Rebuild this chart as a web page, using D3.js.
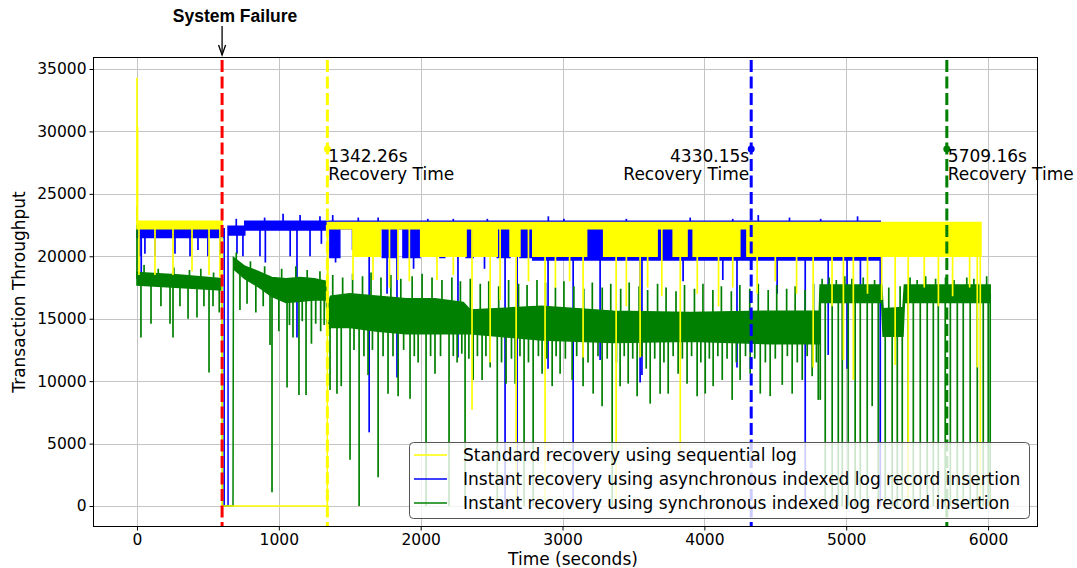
<!DOCTYPE html>
<html>
<head>
<meta charset="utf-8">
<script src="https://cdn.jsdelivr.net/npm/d3@7"></script>
<style>
  body { margin: 0; background: #fff; }
  text { font-family: "DejaVu Sans", sans-serif; }
</style>
</head>
<body>
<div id="chart"></div>
<script>
// ---- data ----
const xTicks = [0, 1000, 2000, 3000, 4000, 5000, 6000];
const yTicks = [0, 5000, 10000, 15000, 20000, 25000, 30000, 35000];

const seriesNames = [
  'Standard recovery using sequential log',
  'Instant recovery using asynchronous indexed log record insertion',
  'Instant recovery using synchronous indexed log record insertion'
];

const failureTime = 600;
const recoveryTimes = [1342.26, 4330.15, 5709.16];
const recoveryLabels = ['1342.26s\nRecovery Time', '4330.15s\nRecovery Time', '5709.16s\nRecovery Time'];
const markerValue = 28600;

// yellow: band of the dense trace (step segments), then single dips/peaks
const yellowT  = [0, 600, 1342, 1525, 1715, 2000, 2320, 2370, 2540, 2630, 2700, 2790, 3170, 3290, 3667, 3780, 3878, 3921, 4250, 4300, 5950];
const yellowHi = [22800, 0, 22700, 22700, 22700, 22700, 22700, 22700, 22700, 22700, 22700, 22700, 22700, 22700, 22700, 22700, 22700, 22700, 22700, 22700, 22700];
const yellowLo = [22200, 0, 22200, 20000, 22200, 20000, 22200, 20000, 22200, 20000, 22200, 20000, 22200, 20000, 22200, 20000, 22200, 20000, 22200, 20000, 20000];
const yellowSpikes = [
  [0, 34300], [4, 30400], [14, 18500], [127, 18500], [254, 18500], [388, 18800], [508, 18500], [585, 18300],
  [1345, 14700], [1523, 18100], [1664, 18100], [1780, 17500], [1840, 18100], [1920, 18000], [2115, 18100], [2230, 18500],
  [2362, 7700], [2490, 11500], [2560, 16500], [2673, 0], [2760, 18000], [2877, 0], [2950, 17500], [3050, 18000],
  [3145, 11900], [3378, 0], [3450, 16000], [3547, 11900], [3600, 17500], [3700, 16800], [3830, 4300], [3950, 17000],
  [4100, 16000], [4200, 17500], [4372, 17000], [4500, 18000], [4650, 17000], [4767, 11100], [4900, 16000], [4980, 11700],
  [5050, 10100], [5150, 17000], [5250, 16500], [5345, 11300], [5437, 0], [5550, 17500], [5650, 16000], [5750, 16800],
  [5870, 17500], [5924, 11100], [5945, 0]
];

// blue
const blueT  = [0, 615, 642, 760, 1342, 1360, 1430, 1730, 1835, 1875, 1995, 2136, 2170, 2320, 2370, 2540, 2630, 2700, 2790, 5240];
const blueHi = [22200, 0, 22400, 22800, 22800, 22800, 22800, 22800, 22800, 22800, 22800, 22800, 22800, 22800, 22800, 22800, 22800, 22800, 22800, 22800];
const blueLo = [21500, 0, 21700, 22100, 22200, 19900, 22200, 19900, 22200, 19900, 22200, 19900, 22200, 19900, 22200, 19900, 22200, 19900, 19700, 19700];
const blueSpikes = [
  [20, 20000], [30, 18700], [56, 20200], [127, 20000], [268, 20200], [374, 20000], [430, 20500], [500, 20000], [585, 20100],
  [700, 23000], [705, 20200], [747, 20000], [867, 20000], [900, 23100], [905, 19500], [1030, 23400], [1080, 20000],
  [1128, 13500], [1150, 23300], [1220, 20000], [1290, 23200], [1300, 21000],
  [1380, 23300], [1400, 19500], [1520, 20500], [1560, 23100], [1637, 5900], [1700, 23100], [1763, 17000], [1833, 10300],
  [1950, 19000], [2050, 23000], [2230, 23000], [2263, 11900], [2450, 19000], [2470, 23000], [2595, 0], [2680, 0],
  [2898, 11000], [2900, 23200], [3010, 23000], [3075, 0], [3265, 11700], [3450, 23000], [3547, 9900], [3560, 10500],
  [3850, 18000], [3900, 23100], [4130, 18100], [4200, 23000], [4230, 11100], [4380, 23300], [4513, 17000], [4600, 23100],
  [4711, 0], [4820, 23000], [4873, 12100], [5006, 11000], [5080, 23200], [5100, 17500], [5240, 0]
];

// green (smooth band)
const greenT  = [0, 300, 600, 603, 677, 680, 760, 850, 950, 1050, 1150, 1250, 1335, 1342, 1365, 1500, 1700, 1900, 2100, 2300, 2350, 2850, 3360, 3900, 4464, 4810, 4816, 5250, 5260, 5400, 5410, 6015];
const greenHi = [18700, 18500, 18200, 0, 0, 19900, 19200, 18800, 18300, 18200, 18300, 18200, 18000, 16000, 16800, 17000, 16800, 16600, 16600, 16300, 15700, 16000, 15600, 15500, 15600, 15600, 17700, 17700, 15800, 15900, 17700, 17700];
const greenLo = [17700, 17500, 17300, 0, 0, 19000, 18200, 17600, 16800, 16300, 16400, 16500, 16500, 14200, 14300, 14300, 14000, 13800, 13800, 13800, 13800, 13300, 13100, 13200, 13000, 13000, 16300, 16300, 13600, 13600, 16300, 16300];
const greenSpikes = [
  [0, 24000], [28, 13500], [50, 19300], [99, 14600], [150, 19000], [169, 16000], [233, 14600], [254, 13500], [260, 19100],
  [303, 16000], [360, 15000], [370, 18900], [423, 15100], [450, 19000], [472, 16000], [508, 10700], [536, 16000], [540, 18700], [580, 15500],
  [700, 20300], [726, 15700], [776, 16200], [800, 19600], [838, 15500], [890, 16000], [900, 19200], [938, 12900], [952, 1100],
  [1000, 14000], [1020, 19000], [1058, 9500], [1075, 14500], [1100, 13500], [1120, 19200], [1142, 8900], [1165, 14800],
  [1192, 8900], [1200, 18900], [1230, 13000], [1260, 14600], [1290, 18800], [1295, 14000], [1320, 14500],
  [1361, 9300], [1380, 18500], [1410, 9000], [1440, 9600], [1450, 18300], [1502, 3700], [1520, 18600], [1530, 12500],
  [1566, 0], [1590, 18400], [1600, 12000], [1629, 10500], [1650, 18700], [1660, 12500], [1700, 2300], [1720, 18300],
  [1735, 12000], [1770, 9000], [1790, 18500], [1805, 12000], [1841, 8800], [1860, 18200], [1880, 12500], [1925, 8600],
  [1940, 18400], [1955, 12000], [1982, 11500], [2010, 18600], [2038, 0], [2070, 12000], [2080, 18300], [2101, 10600],
  [2140, 12000], [2150, 18100], [2200, 0], [2220, 18300], [2230, 12000], [2257, 11500], [2280, 18000], [2290, 12200],
  [2313, 0], [2340, 11800], [2350, 18200], [2370, 10100], [2400, 12000], [2420, 17800], [2433, 10100], [2460, 12000],
  [2480, 18000], [2490, 11100], [2540, 0], [2550, 17600], [2570, 11500], [2602, 9800], [2620, 18100], [2640, 11800],
  [2666, 9800], [2690, 17800], [2700, 12000], [2729, 0], [2750, 17700], [2760, 11500], [2793, 0], [2820, 18100],
  [2830, 12000], [2856, 10600], [2880, 17900], [2890, 11800], [2927, 9600], [2950, 17500], [2955, 12000], [2983, 10600],
  [3010, 18000], [3020, 11800], [3068, 10100], [3080, 17600], [3100, 12000], [3145, 9600], [3150, 17400], [3180, 11500],
  [3210, 17900], [3216, 9000], [3250, 12000], [3279, 8000], [3280, 17500], [3315, 11800], [3340, 17800], [3350, 0],
  [3380, 11500], [3406, 9600], [3410, 17400], [3435, 12000], [3463, 9800], [3470, 17900], [3495, 11800], [3526, 8800],
  [3540, 17600], [3560, 12000], [3590, 11000], [3600, 17300], [3618, 8200], [3650, 11800], [3670, 17800], [3688, 9000],
  [3715, 11500], [3730, 17500], [3745, 9000], [3780, 12000], [3800, 17200], [3815, 10600], [3845, 11800], [3860, 17700],
  [3878, 9800], [3910, 12000], [3930, 17400], [3949, 8800], [3975, 11500], [3990, 17800], [4006, 9000], [4035, 11800],
  [4060, 17300], [4062, 9600], [4095, 12000], [4120, 17600], [4126, 10100], [4160, 11800], [4190, 17200], [4196, 8500],
  [4225, 11500], [4250, 17700], [4252, 10100], [4290, 12000], [4320, 17400], [4323, 10600], [4355, 11800], [4380, 17800],
  [4394, 9000], [4430, 11500], [4450, 17300], [4464, 8800], [4500, 11800], [4510, 17700], [4549, 9700], [4580, 17400],
  [4585, 12000], [4619, 9000], [4640, 17600], [4655, 11500], [4690, 10100], [4710, 17300], [4725, 12000], [4760, 10400],
  [4770, 17800], [4790, 11500], [4803, 8500],
  [4817, 8500], [4830, 18200], [4852, 0], [4880, 18300], [4901, 0], [4930, 18100], [4944, 0], [4972, 0], [4990, 18400],
  [5014, 0], [5040, 18200], [5063, 0], [5099, 0], [5120, 18300], [5148, 0], [5183, 8000], [5200, 18100], [5226, 0],
  [5275, 0], [5300, 17500], [5324, 0], [5360, 0], [5380, 17600], [5395, 0], [5437, 0], [5450, 18300], [5473, 0],
  [5500, 18100], [5522, 0], [5560, 18400], [5571, 0], [5614, 0], [5630, 18200], [5649, 0], [5698, 0], [5700, 18300],
  [5734, 0], [5760, 18100], [5783, 0], [5825, 0], [5850, 18300], [5874, 0], [5900, 18200], [5924, 0], [5966, 0],
  [5990, 18400], [6001, 0], [6015, 0]
];

const colors = ['#ffff00', '#0000ff', '#008000'];

// ---- chart ----
const W = 1077, H = 568;
const pLeft = 93, pRight = 1038, pTop = 57, pBottom = 527;

const svg = d3.select('#chart').append('svg')
  .attr('width', W)
  .attr('height', H);

const x = d3.scaleLinear().domain([-310, 6352]).range([pLeft, pRight]);
const y = d3.scaleLinear().domain([-1680, 35960]).range([pBottom, pTop]);

svg.append('clipPath').attr('id', 'plot')
  .append('rect')
  .attr('x', pLeft).attr('y', pTop)
  .attr('width', pRight - pLeft).attr('height', pBottom - pTop);

// grid
const grid = svg.append('g').attr('stroke', '#c4c4c4').attr('stroke-width', 1);
grid.selectAll('.gx').data(xTicks).join('line')
  .attr('x1', d => Math.round(x(d)) + 0.5).attr('x2', d => Math.round(x(d)) + 0.5)
  .attr('y1', pTop).attr('y2', pBottom);
grid.selectAll('.gy').data(yTicks).join('line')
  .attr('y1', d => Math.round(y(d)) + 0.5).attr('y2', d => Math.round(y(d)) + 0.5)
  .attr('x1', pLeft).attr('x2', pRight);

const plot = svg.append('g').attr('clip-path', 'url(#plot)');

function bandAt(rows, t, step) {
  const i = Math.max(0, d3.bisector(d => d.t).right(rows, t) - 1);
  const a = rows[i], b = rows[Math.min(i + 1, rows.length - 1)];
  if (step || a === b) return (a.hi + a.lo) / 2;
  const k = (t - a.t) / (b.t - a.t);
  return (a.hi + a.lo) / 2 + k * ((b.hi + b.lo) / 2 - (a.hi + a.lo) / 2);
}

function drawSeries(T, Hi, Lo, spikes, color, step) {
  const rows = T.map((t, i) => ({ t: t, hi: Hi[i], lo: Lo[i] }));
  const g = plot.append('g');
  const area = d3.area()
    .x(d => x(d.t))
    .y0(d => y(d.lo))
    .y1(d => y(d.hi))
    .curve(step ? d3.curveStepAfter : d3.curveLinear);
  g.append('path')
    .datum(rows)
    .attr('d', area)
    .attr('fill', color)
    .attr('stroke', color)
    .attr('stroke-width', 1.5)
    .attr('stroke-linejoin', 'miter');
  g.selectAll('line.spike')
    .data(spikes)
    .join('line')
    .attr('class', 'spike')
    .attr('x1', d => x(d[0])).attr('x2', d => x(d[0]))
    .attr('y1', d => y(bandAt(rows, d[0], step)))
    .attr('y2', d => y(d[1]))
    .attr('stroke', color)
    .attr('stroke-width', 1.7);
}

drawSeries(blueT, blueHi, blueLo, blueSpikes, colors[1], true);
drawSeries(greenT, greenHi, greenLo, greenSpikes, colors[2], false);
drawSeries(yellowT, yellowHi, yellowLo, yellowSpikes, colors[0], true);

// failure + recovery lines
const vlines = [failureTime].concat(recoveryTimes);
const vcolors = ['#ff0000'].concat(colors);
plot.selectAll('line.v')
  .data(vlines)
  .join('line')
  .attr('class', 'v')
  .attr('x1', d => x(d)).attr('x2', d => x(d))
  .attr('y1', pTop + 3).attr('y2', pBottom)
  .attr('stroke', (d, i) => vcolors[i])
  .attr('stroke-width', 3)
  .attr('stroke-dasharray', '12,4.5');

svg.selectAll('circle.mark')
  .data(recoveryTimes)
  .join('circle')
  .attr('class', 'mark')
  .attr('cx', d => x(d)).attr('cy', y(markerValue))
  .attr('r', 3.5)
  .attr('fill', (d, i) => colors[i]);

const ann = svg.selectAll('text.ann')
  .data(recoveryTimes)
  .join('text')
  .attr('class', 'ann')
  .attr('font-size', 17)
  .attr('fill', '#000')
  .attr('text-anchor', (d, i) => i === 1 ? 'end' : 'start')
  .attr('y', y(markerValue));
ann.each(function(d, i) {
  const lines = recoveryLabels[i].split('\n');
  d3.select(this).selectAll('tspan')
    .data(lines)
    .join('tspan')
    .attr('x', x(d) + (i === 1 ? -2 : 1))
    .attr('dy', (l, j) => j === 0 ? 13 : 18.5)
    .text(l => l);
});

// system failure label
svg.append('text')
  .attr('x', 235).attr('y', 22)
  .attr('text-anchor', 'middle')
  .attr('font-size', 17.5)
  .attr('font-weight', 'bold')
  .style('font-family', '"Liberation Sans", Arial, sans-serif')
  .text('System Failure');
svg.append('line')
  .attr('x1', x(failureTime)).attr('x2', x(failureTime))
  .attr('y1', 26).attr('y2', 55)
  .attr('stroke', '#000').attr('stroke-width', 1.3);
svg.append('path')
  .attr('d', `M${x(failureTime) - 3.5},45 L${x(failureTime)},55 L${x(failureTime) + 3.5},45`)
  .attr('fill', 'none')
  .attr('stroke', '#000').attr('stroke-width', 1.3);

// legend
const lg = svg.append('g');
lg.append('rect')
  .attr('x', 409.5).attr('y', 442.5)
  .attr('width', 620).attr('height', 76)
  .attr('rx', 4)
  .attr('fill', '#fff').attr('fill-opacity', 0.8)
  .attr('stroke', '#555').attr('stroke-width', 1);
const legendRows = lg.selectAll('g.row')
  .data(seriesNames)
  .join('g')
  .attr('class', 'row')
  .attr('transform', (d, i) => `translate(0,${455 + i * 24})`);
legendRows.append('line')
  .attr('x1', 414).attr('x2', 447)
  .attr('stroke', (d, i) => colors[i])
  .attr('stroke-width', 1.5);
legendRows.append('text')
  .attr('x', 463).attr('dy', '0.35em')
  .attr('font-size', 17)
  .text(d => d);

// axes
const xAxis = svg.append('g')
  .attr('transform', `translate(0,${pBottom})`)
  .call(d3.axisBottom(x).tickValues(xTicks).tickSize(3.5).tickPadding(3.5).tickFormat(d3.format('d')));
const yAxis = svg.append('g')
  .attr('transform', `translate(${pLeft},0)`)
  .call(d3.axisLeft(y).tickValues(yTicks).tickSize(3.5).tickPadding(3).tickFormat(d3.format('d')));
[xAxis, yAxis].forEach(a => {
  a.select('.domain').remove();
  a.selectAll('text').attr('font-size', 15.5).attr('fill', '#000').style('font-family', '"DejaVu Sans", sans-serif');
  a.selectAll('line').attr('stroke', '#000');
});

svg.append('rect')
  .attr('x', pLeft + 0.5).attr('y', pTop + 0.5)
  .attr('width', pRight - pLeft - 1).attr('height', pBottom - pTop - 1)
  .attr('fill', 'none').attr('stroke', '#000').attr('stroke-width', 1);

svg.append('text')
  .attr('x', 573).attr('y', 565)
  .attr('text-anchor', 'middle')
  .attr('font-size', 17)
  .text('Time (seconds)');
svg.append('text')
  .attr('transform', `translate(25,${(pTop + pBottom) / 2}) rotate(-90)`)
  .attr('text-anchor', 'middle')
  .attr('font-size', 17)
  .text('Transaction Throughput');
</script>
</body>
</html>
